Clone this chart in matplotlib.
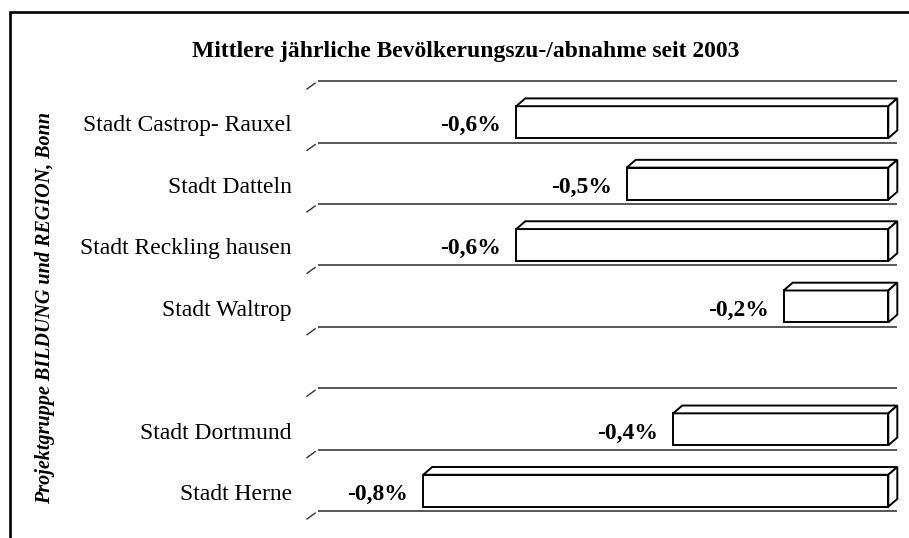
import matplotlib
matplotlib.use("Agg")
import matplotlib.pyplot as plt
from matplotlib.patches import Polygon, Rectangle
import matplotlib.transforms as mtransforms

# ---- data ----
categories = ["Stadt Castrop- Rauxel", "Stadt Datteln", "Stadt Reckling hausen",
              "Stadt Waltrop", "", "Stadt Dortmund", "Stadt Herne"]
values = [-0.64, -0.45, -0.64, -0.18, None, -0.37, -0.80]
value_labels = ["-0,6%", "-0,5%", "-0,6%", "-0,2%", "", "-0,4%", "-0,8%"]
title = "Mittlere jährliche Bevölkerungszu-/abnahme seit 2003"
side_note = "Projektgruppe BILDUNG und REGION, Bonn"

SERIF = ["Liberation Serif", "DejaVu Serif"]

W, H = 909, 538
fig = plt.figure(figsize=(W / 100, H / 100), dpi=100)

# outer frame (cut off at right and bottom)
fig.add_artist(Rectangle((9.5 / W, -0.1), 1.2, 1.1 - 11.5 / H,
                         transform=fig.transFigure, fill=False,
                         edgecolor="black", linewidth=1.9))

# plot axes: front plane
x0, x1 = 307, 888.3
ytop, ybot = 89, 519
ax = fig.add_axes([x0 / W, 1 - ybot / H, (x1 - x0) / W, (ybot - ytop) / H])
n = len(categories)
ax.set_xlim(-1.0, 0.0)
ax.set_ylim(n, 0)
ax.axis("off")

dx = 9.0 / (x1 - x0)               # depth offset in data units
dy = 7.8 / ((ybot - ytop) / n)      # depth offset in slot units

# gridlines on back wall + diagonal floor ticks
for k in range(n + 1):
    ax.plot([-1.0 + dx + 0.004, dx], [k - dy, k - dy], color="#3a3a3a",
            lw=1.2, clip_on=False, zorder=1, solid_capstyle="butt")
    ax.plot([-1.0, -1.0 + dx * 0.9], [k, k - dy * 0.75], color="#333333",
            lw=1.0, clip_on=False, zorder=1)

face_top, face_bot = 0.28, 0.80
for i, v in enumerate(values):
    if v is None:
        continue
    yt, yb = i + face_top, i + face_bot
    front = Polygon([(v, yt), (0, yt), (0, yb), (v, yb)], closed=True,
                    facecolor="white", edgecolor="black", lw=1.4,
                    zorder=3, clip_on=False, joinstyle="miter")
    top = Polygon([(v, yt), (0, yt), (dx, yt - dy), (v + dx, yt - dy)], closed=True,
                  facecolor="white", edgecolor="black", lw=1.4,
                  zorder=3, clip_on=False, joinstyle="miter")
    side = Polygon([(0, yt), (dx, yt - dy), (dx, yb - dy), (0, yb)], closed=True,
                   facecolor="white", edgecolor="black", lw=1.4,
                   zorder=3, clip_on=False, joinstyle="miter")
    for p in (front, top, side):
        ax.add_patch(p)

# value labels
off_val = mtransforms.offset_copy(ax.transData, fig=fig, x=-15, y=0, units="dots")
for i, (v, lab) in enumerate(zip(values, value_labels)):
    if v is None:
        continue
    ax.text(v, i + 0.69, lab, transform=off_val, ha="right", va="baseline",
            fontsize=17, fontweight="bold", family=SERIF, zorder=4,
            bbox=dict(facecolor="white", edgecolor="none", pad=3.0))

# category labels
off_cat = mtransforms.offset_copy(ax.transData, fig=fig, x=-15, y=0, units="dots")
for i, c in enumerate(categories):
    if not c:
        continue
    ax.text(-1.0, i + 0.69, c, transform=off_cat, ha="right", va="baseline",
            fontsize=17, family=SERIF)

# title
fig.text(466 / W, 1 - 52 / H, title, ha="center", va="center",
         fontsize=17, fontweight="bold", family=SERIF)

# vertical side note
fig.text(45 / W, 1 - 308 / H, side_note, ha="center", va="center", rotation=90,
         fontsize=14.5, fontweight="bold", fontstyle="italic", family=SERIF)

fig.savefig("out.png", dpi=100)
